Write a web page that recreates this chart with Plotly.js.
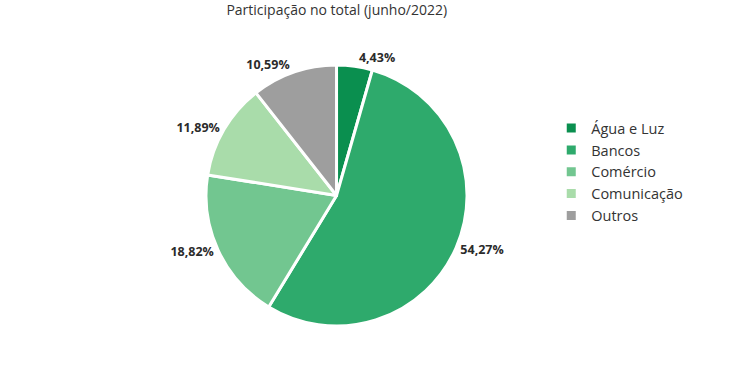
<!DOCTYPE html>
<html>
<head>
<meta charset="utf-8">
<script src="https://cdn.plot.ly/plotly-3.0.1.min.js"></script>
<style>html,body{margin:0;padding:0;background:#fff;}#chart{width:750px;height:375px;}</style>
</head>
<body>
<div id="chart"></div>
<script>
const categories = ["Água e Luz", "Bancos", "Comércio", "Comunicação", "Outros"];
const values = [4.43, 54.27, 18.82, 11.89, 10.59];
const labelsText = ["4,43%", "54,27%", "18,82%", "11,89%", "10,59%"];
const colors = ["#0a8f4f", "#2eaa6c", "#72c690", "#a9dcaa", "#9e9e9e"];

const trace = {
  type: "pie",
  labels: categories,
  values: values,
  text: labelsText,
  textinfo: "text",
  textposition: "outside",
  sort: false,
  direction: "clockwise",
  rotation: 0,
  marker: { colors: colors, line: { color: "#ffffff", width: 3 } },
  outsidetextfont: { family: "Open Sans, sans-serif", size: 12.5, color: "#2b2b2b", weight: "bold" },
  hoverinfo: "none",
  domain: { x: [0.1987, 0.6987], y: [0.1307, 0.8267] },
  automargin: false
};

const layout = {
  width: 750,
  height: 375,
  margin: { l: 0, r: 0, t: 0, b: 0 },
  paper_bgcolor: "#ffffff",
  title: {
    text: "Participação no total (junho/2022)",
    font: { family: "Open Sans, sans-serif", size: 14, color: "#333333" },
    x: 0.449, xanchor: "center",
    y: 1 - 10 / 375, yanchor: "middle",
    yref: "paper", xref: "paper"
  },
  showlegend: true,
  legend: {
    x: 0.735, xanchor: "left",
    y: 0.541, yanchor: "middle",
    font: { family: "Open Sans, sans-serif", size: 14.5, color: "#333333" },
    bgcolor: "rgba(0,0,0,0)"
  }
};

Plotly.newPlot("chart", [trace], layout, { displayModeBar: false, staticPlot: true });
</script>
</body>
</html>
